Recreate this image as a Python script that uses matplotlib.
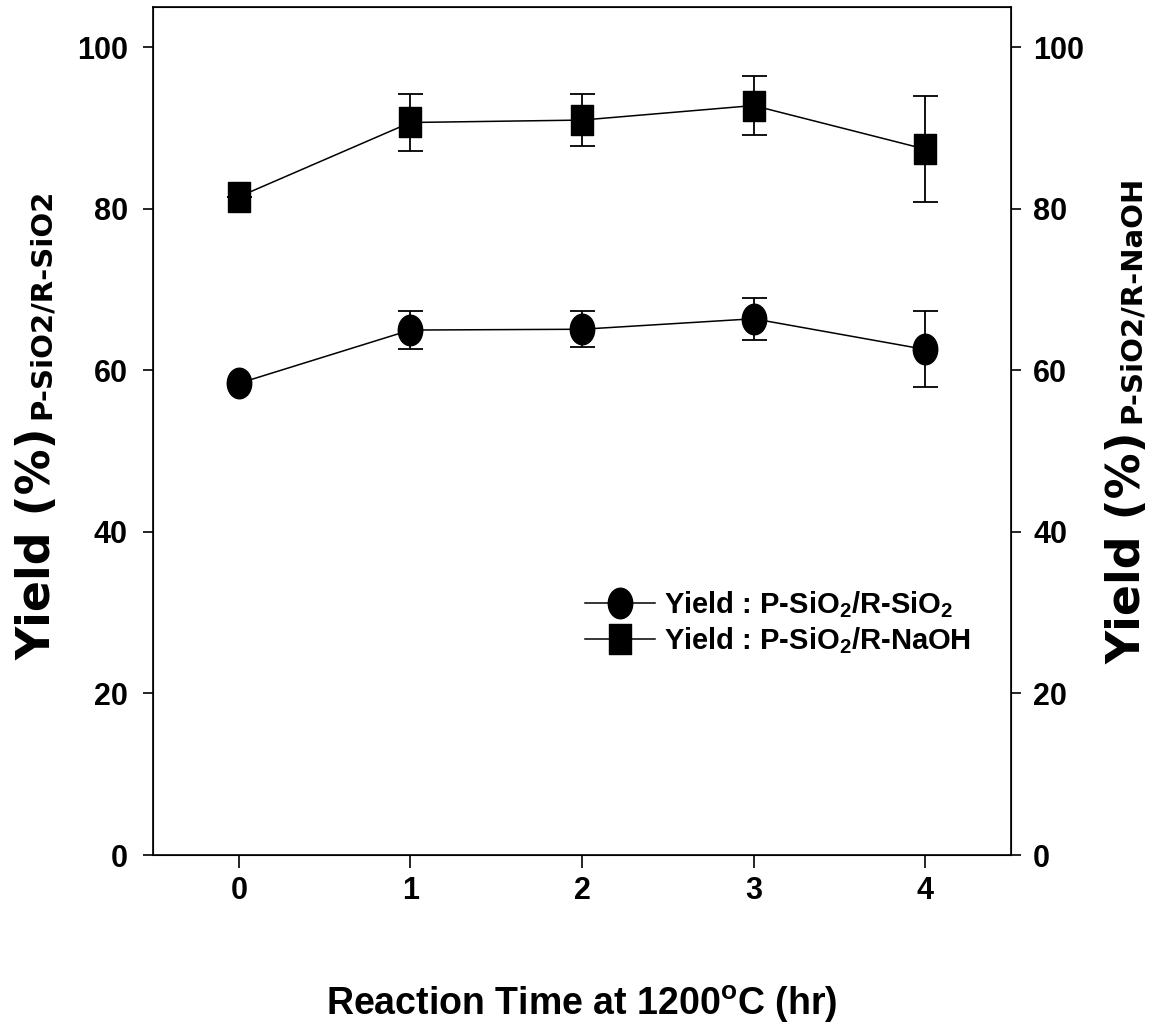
import numpy as np
import matplotlib
matplotlib.use("Agg")
import matplotlib.pyplot as plt
from matplotlib.path import Path

# datos
tiempo = [0, 1, 2, 3, 4]
yield_sio2 = [58.4, 65.0, 65.1, 66.4, 62.6]
err_sio2 = [0.0, 2.4, 2.2, 2.6, 4.7]
yield_naoh = [81.5, 90.7, 91.0, 92.8, 87.4]
err_naoh = [0.0, 3.5, 3.2, 3.6, 6.6]
ticks_y = [0, 20, 40, 60, 80, 100]

NARROW = ['Liberation Sans', 'DejaVu Sans']
WIDE = ['DejaVu Sans']

plt.rcParams['font.family'] = NARROW
plt.rcParams['font.weight'] = 'bold'
plt.rcParams['mathtext.fontset'] = 'custom'
plt.rcParams['mathtext.rm'] = 'Liberation Sans:bold'
plt.rcParams['mathtext.bf'] = 'Liberation Sans:bold'

# marcadores un poco mas altos que anchos, como en la original
elipse = Path.unit_circle()
elipse = Path(elipse.vertices * np.array([0.8, 1.0]), elipse.codes)
rect = Path([(-0.37, -0.5), (0.37, -0.5), (0.37, 0.5), (-0.37, 0.5), (-0.37, -0.5)],
            [Path.MOVETO, Path.LINETO, Path.LINETO, Path.LINETO, Path.CLOSEPOLY])

W, H = 1159, 1031
fig = plt.figure(figsize=(W / 100, H / 100), dpi=100)
ax = fig.add_axes([0.132, 0.1707, 0.7403, 0.8225])

ax.errorbar(tiempo, yield_sio2, yerr=err_sio2, fmt='none', ecolor='black',
            elinewidth=1.3, capsize=9, capthick=1.3)
ax.errorbar(tiempo, yield_naoh, yerr=err_naoh, fmt='none', ecolor='black',
            elinewidth=1.3, capsize=9, capthick=1.3)
ax.plot(tiempo, yield_sio2, color='black', lw=1.1, marker=elipse, ms=22,
        mfc='black', mec='black', label=r'Yield : P-SiO$_\mathregular{2}$/R-SiO$_\mathregular{2}$')
ax.plot(tiempo, yield_naoh, color='black', lw=1.1, marker=rect, ms=21,
        mfc='black', mec='black', label=r'Yield : P-SiO$_\mathregular{2}$/R-NaOH')

ax.set_xlim(-0.5, 4.5)
ax.set_ylim(0, 105)
ax.set_xticks(tiempo)
ax.set_yticks(ticks_y)
for s in ax.spines.values():
    s.set_linewidth(1.2)
ax.tick_params(axis='x', direction='out', length=9, width=1.2, pad=6, labelsize=22)
ax.tick_params(axis='y', direction='out', length=7, width=1.2, pad=11, labelsize=22)

ax2 = ax.twinx()
ax2.set_ylim(0, 105)
ax2.set_yticks(ticks_y)
ax2.tick_params(axis='y', direction='out', length=7, width=1.2, pad=9, labelsize=22)

ax.legend(loc='upper left', bbox_to_anchor=(585 / W, 1 - 589 / H),
          bbox_transform=fig.transFigure, frameon=False, fontsize=21,
          handlelength=2.4, handletextpad=0.3, labelspacing=0.2,
          borderpad=0, borderaxespad=0)

# titulos de ejes
fig.text(0.502, 0.0155, r'Reaction Time at 1200$^\mathregular{o}$C (hr)',
         ha='center', va='baseline', fontsize=27, fontweight='bold')

renderer = fig.canvas.get_renderer()


def titulo_y(x_px, y0_px, sub):
    # "Yield (%)" grande y el subindice a continuacion
    t = fig.text(x_px / W, 1 - y0_px / H, 'Yield (%)', rotation=90, rotation_mode='anchor',
                 ha='left', va='baseline', fontsize=33, fontweight='bold', family=WIDE)
    bb = t.get_window_extent(renderer)
    fig.text(x_px / W, (bb.y1 + 8) / H, sub, rotation=90, rotation_mode='anchor',
             ha='left', va='baseline', fontsize=21, fontweight='bold', family=WIDE)


titulo_y(50, 660, 'P-SiO2/R-SiO2')
titulo_y(1140, 664, 'P-SiO2/R-NaOH')

plt.savefig('out.png', dpi=100)
